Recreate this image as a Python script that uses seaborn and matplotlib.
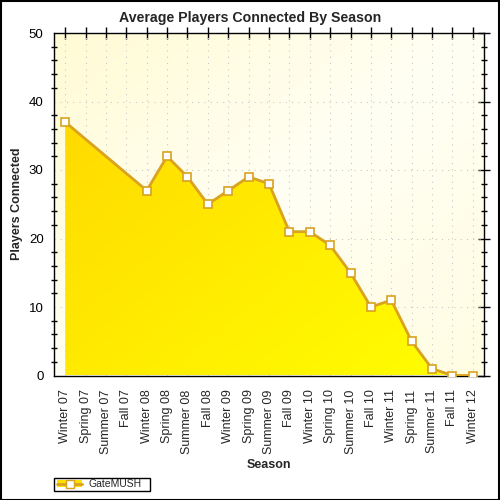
import numpy as np
import pandas as pd
import matplotlib
matplotlib.use("Agg")
import matplotlib.pyplot as plt
import seaborn as sns
from matplotlib.colors import LinearSegmentedColormap
from matplotlib.patches import Rectangle, Patch
from matplotlib.lines import Line2D

seasons = ["Winter 07", "Spring 07", "Summer 07", "Fall 07", "Winter 08", "Spring 08",
           "Summer 08", "Fall 08", "Winter 09", "Spring 09", "Summer 09", "Fall 09",
           "Winter 10", "Spring 10", "Summer 10", "Fall 10", "Winter 11", "Spring 11",
           "Summer 11", "Fall 11", "Winter 12"]
players = [37, np.nan, np.nan, np.nan, 27, 32, 29, 25, 27, 29, 28, 21,
           21, 19, 15, 10, 11, 5, 1, 0, 0]
series_name = "GateMUSH"
title = "Average Players Connected By Season"
x_label = "Season"
y_label = "Players Connected"

sns.set_theme(style="white")
plt.rcParams["font.family"] = ["Liberation Sans", "DejaVu Sans"]

df = pd.DataFrame({"season": seasons, "players": players})
df["pos"] = np.arange(len(seasons))
valid = df.dropna()

fig = plt.figure(figsize=(5, 5), dpi=100)
fig.patch.set_facecolor("white")
ax = fig.add_axes([54 / 500, 1 - 375.5 / 500, 430 / 500, 342.5 / 500])

xmin, xmax = -0.55, len(seasons) - 1 + 0.55
ymin, ymax = 0, 50

# background gradient
bg_cmap = LinearSegmentedColormap.from_list("bg", ["#FFFBD4", "#FFFFF4", "#FFFDE2"])
gx, gy = np.meshgrid(np.linspace(0, 1, 200), np.linspace(0, 1, 200))
ax.imshow((gx + gy) / 2, cmap=bg_cmap, extent=[xmin, xmax, ymin, ymax],
          origin="upper", aspect="auto", zorder=0, interpolation="bilinear")

# area fill with gradient
poly = ax.fill_between(valid["pos"], valid["players"], 0, color="none", zorder=1)
fill_cmap = LinearSegmentedColormap.from_list("fill", ["#FFD400", "#FFFF00"])
im = ax.imshow((gx + gy) / 2, cmap=fill_cmap, extent=[xmin, xmax, ymin, ymax],
               origin="upper", aspect="auto", zorder=1.5, interpolation="bilinear")
path = poly.get_paths()[0]
im.set_clip_path(path, transform=ax.transData)

# grid
for i in range(len(seasons)):
    ax.axvline(i, color="#C4C4C4", lw=0.75, ls=(0, (1, 5)), zorder=1.2)
for v in range(10, 50, 10):
    ax.axhline(v, color="#C4C4C4", lw=0.75, ls=(0, (1, 5)), zorder=1.2)

sns.lineplot(data=valid, x="pos", y="players", ax=ax, color="#D9A21F", lw=2,
             marker="s", markersize=6, markerfacecolor="white",
             markeredgecolor="#D9A21F", markeredgewidth=1.2, zorder=3,
             legend=False)

ax.set_xlim(xmin, xmax)
ax.set_ylim(ymin, ymax)
ax.set_xticks(range(len(seasons)))
ax.set_xticklabels(seasons, rotation=90, fontsize=9)
ax.set_yticks(range(0, 51, 10))
ax.set_yticks(range(0, 51, 2), minor=True)
ax.tick_params(axis="y", labelsize=9.5)
ax.tick_params(axis="both", which="both", direction="inout", color="black",
               width=1, pad=6)
ax.tick_params(axis="x", which="major", length=8, top=True, labeltop=False)
ax.tick_params(axis="y", which="major", length=8, right=True, labelright=False, pad=3.5)
ax.tick_params(axis="y", which="minor", length=5, right=True, left=True)
ax.tick_params(axis="y", which="major", labelcolor="black")
for s in ax.spines.values():
    s.set_color("black")
    s.set_linewidth(1)
    s.set_visible(True)

ax.set_xlabel(x_label, fontsize=9, fontweight="bold")
ax.set_ylabel(y_label, fontsize=9, fontweight="bold")
ax.xaxis.set_label_coords(0.5, (375.5 - 459) / 342.5)
ax.yaxis.set_label_coords((23 - 54) / 430, 0.5)
fig.text(0.5, 1 - 18 / 500, title, ha="center", va="center",
         fontsize=10.2, fontweight="bold")

handle = (Patch(facecolor="#FFE000", edgecolor="none"),
          Line2D([], [], color="#D9A21F", lw=2, marker="s", markersize=6,
                 markerfacecolor="white", markeredgecolor="#D9A21F"))
leg = fig.legend([handle], [series_name], loc="center left",
                 bbox_to_anchor=(57 / 500, 1 - 484 / 500), fontsize=7.5,
                 frameon=False, borderpad=0, handlelength=2.4,
                 handleheight=0.6, handletextpad=0.67, borderaxespad=0)
fig.patches.append(Rectangle((54 / 500, 1 - 490.5 / 500), 96 / 500, 12.5 / 500,
                             transform=fig.transFigure, fill=False,
                             edgecolor="black", lw=1))

fig.patches.append(Rectangle((0.001, 0.001), 0.997, 0.997, transform=fig.transFigure,
                             fill=False, edgecolor="black", lw=1.5))

fig.savefig("out.png", dpi=100)
